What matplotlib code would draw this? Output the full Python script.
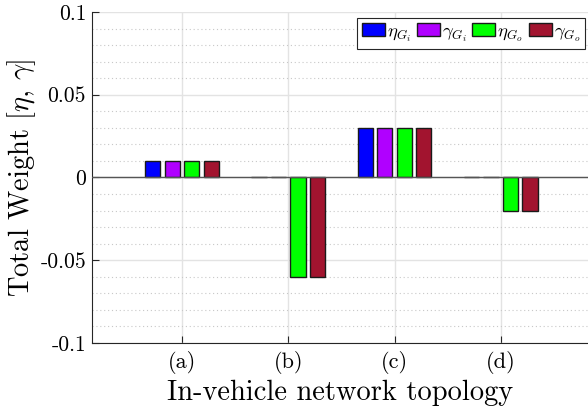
import matplotlib
matplotlib.use('Agg')
import matplotlib.pyplot as plt
import numpy as np
from matplotlib.ticker import MultipleLocator

plt.rcParams['font.family'] = 'serif'
plt.rcParams['font.serif'] = ['cmr10', 'DejaVu Serif']
plt.rcParams['mathtext.fontset'] = 'cm'
plt.rcParams['axes.formatter.use_mathtext'] = True

# data
topologies = ['(a)', '(b)', '(c)', '(d)']
eta_gi = [0.01, 0.0, 0.03, 0.0]
gamma_gi = [0.01, 0.0, 0.03, 0.0]
eta_go = [0.01, -0.06, 0.03, -0.02]
gamma_go = [0.01, -0.06, 0.03, -0.02]
series_labels = [r'$\eta_{G_i}$', r'$\gamma_{G_i}$', r'$\eta_{G_o}$', r'$\gamma_{G_o}$']
series_colors = ['#0000FF', '#B000FF', '#00FF00', '#A2142F']
y_ticks = [-0.1, -0.05, 0, 0.05, 0.1]
y_tick_labels = ['-0.1', '-0.05', '0', '0.05', '0.1']

fig = plt.figure(figsize=(5.88, 4.13), dpi=100)
ax = fig.add_axes([0.1565, 0.1695, 0.8435, 0.8015])

x = np.arange(1, len(topologies) + 1)
offsets = [-0.277, -0.093, 0.09, 0.274]
width = 0.142
for vals, off, col, lab in zip([eta_gi, gamma_gi, eta_go, gamma_go], offsets, series_colors, series_labels):
    ax.bar(x + off, vals, width, color=col, edgecolor='#1a1a1a', linewidth=1.0, label=lab, zorder=3)

ax.axhline(0, color='#555555', linewidth=1.0, zorder=4)

ax.set_xlim(0.151, 4.82)
ax.set_ylim(-0.1, 0.1)
ax.set_xticks(x)
ax.set_xticklabels(topologies, fontsize=16)
ax.set_yticks(y_ticks)
ax.set_yticklabels(y_tick_labels, fontsize=15.5)
ax.yaxis.set_minor_locator(MultipleLocator(0.01))

ax.grid(True, which='major', color='#e3e3e3', linewidth=1.0, zorder=0)
ax.grid(True, which='minor', axis='y', color='#c8c8c8', linestyle=(0, (1, 2.5)), linewidth=0.8, zorder=0)
ax.set_axisbelow(True)

ax.tick_params(axis='both', which='major', direction='in', length=5, width=0.8, color='#262626')
ax.tick_params(axis='y', which='major', pad=4.3)
ax.tick_params(axis='x', which='major', pad=5.5)
ax.tick_params(axis='y', which='minor', length=0)
ax.tick_params(top=False, right=False)
ax.spines['top'].set_visible(False)
ax.spines['right'].set_visible(False)
for s in ['left', 'bottom']:
    ax.spines[s].set_color('#262626')
    ax.spines[s].set_linewidth(0.8)

ax.set_xlabel('In-vehicle network topology', fontsize=20.5, labelpad=4)
ax.set_ylabel(r'Total Weight [$\eta$, $\gamma$]', fontsize=20.5, labelpad=1.5)

leg = ax.legend(loc='upper right', bbox_to_anchor=(0.997, 0.988), ncol=4, fontsize=13.5,
                frameon=True, fancybox=False, edgecolor='#262626', framealpha=1,
                handlelength=1.23, handleheight=0.7, handletextpad=0.1,
                columnspacing=0.3, borderpad=0.25, borderaxespad=0.1)
leg.get_frame().set_linewidth(0.8)

fig.savefig('out.png', dpi=100)
